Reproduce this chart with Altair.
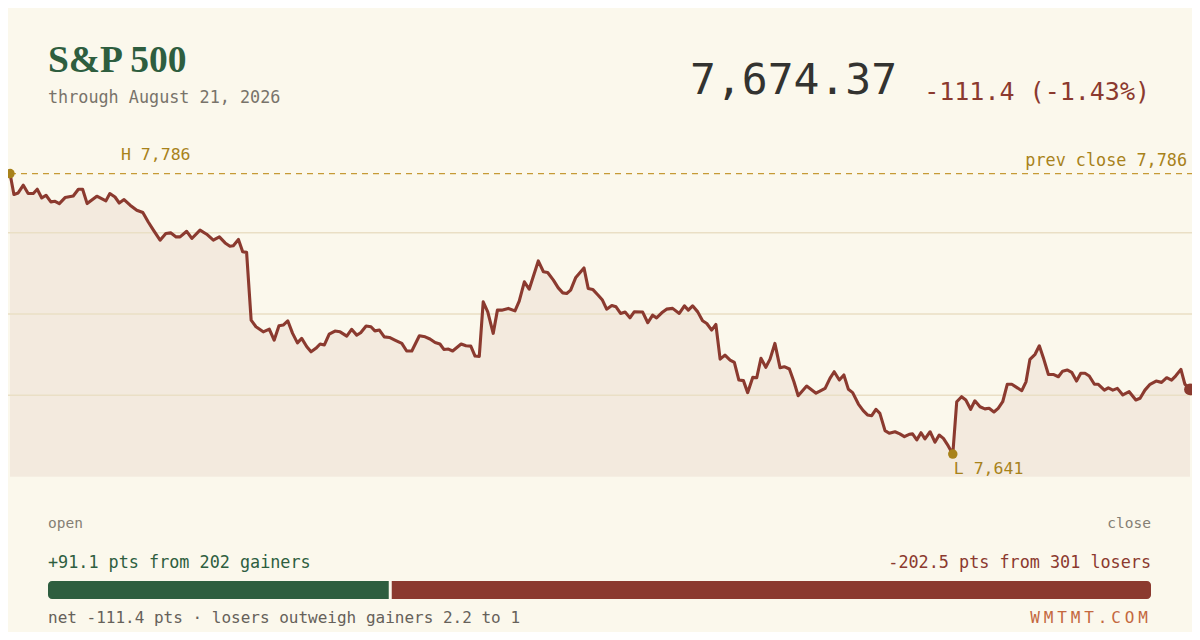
import altair as alt
import pandas as pd

# ---------------- data ----------------
minutes = [0,1.3,2.7,4.4,6.0,7.7,9.0,10.5,11.9,13.5,
14.9,16.3,18.2,20.9,22.6,24.0,25.5,28.7,31.7,33.0,
34.7,36.1,37.7,39.7,41.9,43.9,45.7,47.4,49.6,51.5,
53.1,54.9,56.2,58.4,60.1,62.8,65.0,67.2,69.2,71.1,
72.7,73.8,75.5,76.9,78.2,79.7,81.3,83.7,85.7,87.3,
88.9,90.3,91.8,93.4,95.0,96.4,98.1,99.5,101.1,102.5,
103.9,105.5,107.4,109.1,111.3,112.9,114.6,115.9,117.7,119.3,
120.6,122.1,123.7,125.4,127.2,129.5,131.1,132.8,135.3,137.2,
138.8,140.5,142.1,143.4,144.9,146.3,149.1,150.7,152.3,153.7,
155.1,156.4,157.9,159.7,161.1,162.5,164.7,166.9,168.3,170.0,
171.6,174.6,176.3,177.7,179.6,181.2,182.7,184.0,185.3,187.0,
189.7,191.1,192.6,194.4,195.8,197.2,198.9,200.3,201.8,203.3,
204.9,206.3,209.1,210.8,212.4,213.7,215.4,217.0,219.0,221.2,
222.9,224.2,225.6,227.3,228.9,230.3,231.9,233.3,234.7,236.3,
238.0,239.4,240.9,242.4,243.8,245.5,246.8,248.2,249.8,251.2,
252.8,254.5,255.9,257.6,259.1,260.5,263.3,266.4,269.4,271.0,
272.4,274.1,275.6,277.1,278.5,280.4,282.0,283.4,284.8,286.2,
287.5,289.2,290.6,292.5,294.1,295.6,297.2,298.3,299.7,301.1,
302.4,304.1,305.7,307.1,308.5,310.1,311.6,312.9,314.5,315.9,
317.5,318.9,320.6,322.2,323.6,325.2,326.6,328.1,329.6,331.1,
332.7,334.4,335.8,337.1,338.8,340.2,341.5,343.2,344.8,346.5,
347.9,349.4,350.9,352.5,353.9,355.3,356.7,358.4,359.7,361.7,
363.0,364.5,366.0,367.8,369.9,372.1,373.5,375.1,376.8,378.8,
380.6,382.3,383.9,385.3,387.0,388.3,390]

prices = [7785.8,7775.0,7775.8,7779.8,7775.5,7775.5,7777.7,7773.2,7774.6,7771.2,
7771.5,7770.3,7773.4,7774.2,7777.7,7777.7,7770.3,7774.1,7771.7,7775.5,
7773.7,7770.6,7772.4,7769.5,7766.9,7765.7,7760.8,7756.6,7751.4,7754.9,
7755.2,7753.1,7753.1,7756.0,7752.3,7756.6,7754.5,7751.4,7753.1,7750.0,
7748.3,7748.5,7751.8,7745.4,7745.1,7710.1,7706.7,7704.1,7705.5,7699.8,
7707.2,7707.6,7709.8,7703.3,7698.4,7700.7,7696.4,7693.8,7695.6,7697.8,
7697.3,7702.9,7704.5,7704.1,7701.9,7705.4,7702.4,7703.6,7707.1,7706.7,
7704.6,7705.0,7701.5,7701.2,7699.8,7698.1,7694.2,7694.2,7702.1,7701.5,
7700.4,7698.6,7697.8,7695.0,7695.2,7694.2,7697.8,7696.9,7696.7,7691.6,
7691.4,7719.6,7714.4,7703.3,7715.3,7715.3,7716.2,7714.9,7719.9,7729.9,
7726.1,7740.7,7735.1,7734.7,7730.8,7726.8,7724.2,7723.9,7725.6,7732.2,
7737.1,7726.5,7726.0,7723.0,7720.5,7715.8,7717.7,7717.0,7713.6,7714.3,
7711.3,7714.4,7714.3,7708.8,7712.7,7711.3,7713.9,7715.8,7716.2,7713.6,
7717.5,7715.3,7717.5,7714.4,7709.8,7708.4,7705.0,7707.9,7690.0,7692.1,
7689.5,7688.3,7679.2,7678.9,7672.7,7680.6,7680.4,7690.4,7685.8,7690.0,
7698.1,7685.6,7686.1,7684.9,7678.3,7671.1,7676.1,7672.4,7674.9,7680.1,
7683.5,7679.2,7681.8,7674.4,7672.7,7666.8,7663.4,7661.2,7660.8,7664.1,
7662.0,7653.1,7651.7,7652.5,7651.4,7650.0,7651.2,7651.4,7648.3,7652.0,
7648.8,7652.5,7647.1,7650.8,7649.1,7645.2,7641.0,7668.0,7670.6,7668.9,
7664.1,7668.5,7665.4,7664.3,7664.6,7662.7,7664.6,7668.0,7677.0,7677.0,
7675.4,7673.7,7678.3,7689.9,7692.5,7696.9,7690.9,7682.1,7682.1,7680.9,
7683.8,7684.4,7683.2,7678.7,7682.7,7682.7,7681.3,7677.0,7677.0,7674.0,
7675.2,7674.0,7674.9,7671.5,7673.2,7668.9,7669.8,7674.0,7677.0,7678.7,
7678.0,7680.4,7679.2,7681.4,7684.7,7677.1,7674.37]

prev_close = 7785.77
high_minute, high_value = 0, 7785.8
low_minute, low_value = 311.6, 7641.0
close_minute, close_value = 390, 7674.37
y_domain = [7629.3, 7797.3]
grid_values = [7671.3, 7713.3, 7755.3]

gainer_pts = 91.1
loser_pts = 202.5
brand_letters = list("WMTMT.COM")

title_text = "S&P 500"
subtitle_text = "through August 21, 2026"
price_text = "7,674.37"
change_text = "-111.4 (-1.43%)"
prev_text = "prev close 7,786"
high_text = "H 7,786"
low_text = "L 7,641"
gain_text = "+91.1 pts from 202 gainers"
loss_text = "-202.5 pts from 301 losers"
net_text = "net -111.4 pts \u00b7 losers outweigh gainers 2.2 to 1"

# ---------------- styles ----------------
BG = "#FBF8EC"
RED = "#8B3A2F"
GREEN = "#2E5E3F"
GOLD = "#A8821A"
MONO = "DejaVu Sans Mono"

W, H = 1184, 624

line_df = pd.DataFrame({"m": minutes, "v": prices})
xs = alt.Scale(domain=[0, 390], range=[2, 1182], nice=False, zero=False)
ys = alt.Scale(domain=y_domain, range=[468.7, 143.3], nice=False, zero=False)

X = alt.X("m:Q", scale=xs, axis=None)
Y = alt.Y("v:Q", scale=ys, axis=None)

area = alt.Chart(line_df).mark_area(color=RED, opacity=0.07).encode(
    x=X, y=Y, y2=alt.datum(y_domain[0]))

grid = alt.Chart(pd.DataFrame({"v": grid_values})).mark_rule(
    color="#EADFC5", strokeWidth=1.5).encode(
    y=Y, x=alt.value(0), x2=alt.value(W))

prev_line = alt.Chart(pd.DataFrame({"v": [prev_close]})).mark_rule(
    color="#C69A35", strokeWidth=1.3, strokeDash=[6, 5]).encode(
    y=Y, x=alt.value(2), x2=alt.value(W))

line = alt.Chart(line_df).mark_line(
    color=RED, strokeWidth=3.1, strokeJoin="round", strokeCap="round").encode(x=X, y=Y)

hl_df = pd.DataFrame({"m": [high_minute, low_minute], "v": [high_value, low_value]})
hl_dots = alt.Chart(hl_df).mark_circle(color=GOLD, size=90, opacity=1).encode(x=X, y=Y)

close_dot = alt.Chart(pd.DataFrame({"m": [close_minute], "v": [close_value]})).mark_circle(
    color=RED, size=140, opacity=1).encode(x=X, y=Y)

high_lbl = alt.Chart(pd.DataFrame({"m": [high_minute], "v": [high_value], "t": [high_text]})).mark_text(
    font=MONO, fontSize=16.5, color=GOLD, align="left", baseline="alphabetic", dx=111, dy=-13.5).encode(
    x=X, y=Y, text="t:N")

low_lbl = alt.Chart(pd.DataFrame({"m": [low_minute], "v": [low_value], "t": [low_text]})).mark_text(
    font=MONO, fontSize=16.5, color=GOLD, align="left", baseline="alphabetic", dx=1, dy=19.5).encode(
    x=X, y=Y, text="t:N")


def txt(s, x, y, size, color, align="left", font=MONO, weight="normal"):
    return alt.Chart(pd.DataFrame({"t": [s]})).mark_text(
        font=font, fontSize=size, color=color, align=align, baseline="alphabetic",
        fontWeight=weight).encode(x=alt.value(x), y=alt.value(y), text="t:N")


texts = [
    txt(title_text, 40, 64, 37.5, GREEN, font="Liberation Serif", weight="bold"),
    txt(subtitle_text, 40, 95, 16.8, "#78736A"),
    txt(price_text, 682, 86, 43, "#333330"),
    txt(change_text, 1142, 92, 25, RED, align="right"),
    txt(prev_text, 1179, 158, 16.8, GOLD, align="right"),
    txt("open", 40, 520, 14.5, "#857F74"),
    txt("close", 1143, 520, 14.5, "#857F74", align="right"),
    txt(gain_text, 40, 560, 16.8, GREEN),
    txt(loss_text, 1143, 560, 16.8, RED, align="right"),
    txt(net_text, 40, 615, 16, "#66615A"),
]

bar_total = gainer_pts + loser_pts
bs = alt.Scale(domain=[0, bar_total], range=[40, 1143], nice=False, zero=False)
gain_bar = alt.Chart(pd.DataFrame({"a": [0], "b": [gainer_pts]})).mark_bar(
    color=GREEN, cornerRadiusTopLeft=4, cornerRadiusBottomLeft=4, x2Offset=-1.5).encode(
    x=alt.X("a:Q", scale=bs, axis=None), x2="b:Q", y=alt.value(573), y2=alt.value(591))
loss_bar = alt.Chart(pd.DataFrame({"a": [gainer_pts], "b": [bar_total]})).mark_bar(
    color=RED, cornerRadiusTopRight=4, cornerRadiusBottomRight=4, xOffset=1.5).encode(
    x=alt.X("a:Q", scale=bs, axis=None), x2="b:Q", y=alt.value(573), y2=alt.value(591))

brand_df = pd.DataFrame({"i": list(range(len(brand_letters))), "ch": brand_letters})
brand = alt.Chart(brand_df).mark_text(
    font=MONO, fontSize=16, color="#C4683F", align="center", baseline="alphabetic").encode(
    x=alt.X("i:Q", scale=alt.Scale(domain=[0, len(brand_letters) - 1], range=[1027, 1135],
                                   nice=False, zero=False), axis=None),
    y=alt.value(615), text="ch:N")

chart = alt.layer(
    area, grid, prev_line, line, hl_dots, close_dot, high_lbl, low_lbl,
    gain_bar, loss_bar, brand, *texts
).resolve_scale(x="independent", y="independent").properties(
    width=W, height=H, autosize="none", padding=0, background=BG
).configure_view(stroke="transparent")

chart.save("out.html", embed_options={"renderer": "svg", "actions": False})
